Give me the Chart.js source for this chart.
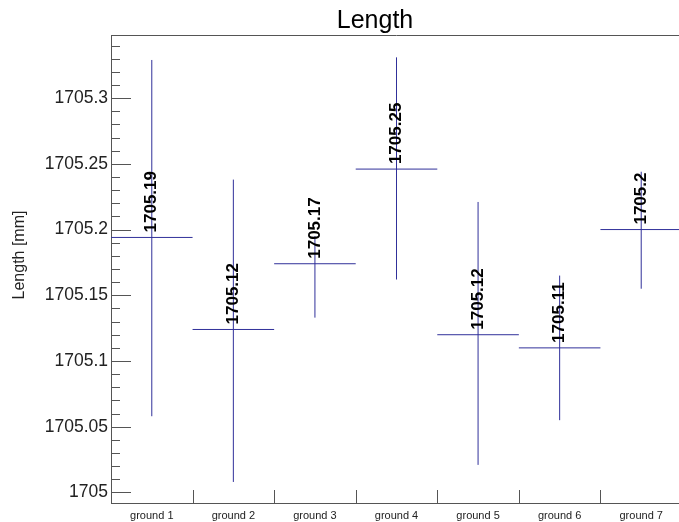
<!DOCTYPE html>
<html>
<head>
<meta charset="utf-8">
<script src="https://cdn.jsdelivr.net/npm/chart.js@4/dist/chart.umd.min.js"></script>
<style>
  html, body { margin: 0; padding: 0; background: #fff; overflow: hidden; }
  #wrap { width: 679px; height: 522px; overflow: hidden; }
</style>
</head>
<body>
<div id="wrap">
  <canvas id="length-chart" width="682" height="522"></canvas>
</div>
<script>
// values
const grounds = ["ground 1", "ground 2", "ground 3", "ground 4", "ground 5", "ground 6", "ground 7"];
const means = [1705.194, 1705.124, 1705.174, 1705.246, 1705.120, 1705.110, 1705.200];
const lows = [1705.058, 1705.008, 1705.133, 1705.162, 1705.021, 1705.055, 1705.155];
const highs = [1705.329, 1705.238, 1705.195, 1705.331, 1705.221, 1705.165, 1705.244];
const valueLabels = means.map((m) => String(parseFloat(m.toFixed(2))));

const lineColor = "#30309a";
const axisColor = "#555555";
const fontName = "'Liberation Sans', Arial, sans-serif";

// horizontal mean line over the whole category, vertical min-max line in the middle
const meanPoints = means.flatMap((m, i) => [
  { x: i - 0.5, y: m },
  { x: i + 0.5, y: m },
  { x: i + 0.5, y: null },
]);
const rangePoints = lows.flatMap((lo, i) => [
  { x: i, y: lo },
  { x: i, y: highs[i] },
  { x: i, y: null },
]);

// frame, inward ticks, titles and the rotated value labels
const decorPlugin = {
  id: "decor",
  afterDraw(chart) {
    const ctx = chart.ctx;
    const area = chart.chartArea;
    const y = chart.scales.y;
    const x2 = chart.scales.x2;

    ctx.save();
    ctx.strokeStyle = axisColor;
    ctx.lineWidth = 1;

    // top border
    ctx.beginPath();
    ctx.moveTo(area.left, area.top + 0.5);
    ctx.lineTo(area.right, area.top + 0.5);
    ctx.stroke();

    // y ticks pointing into the plot
    y.ticks.forEach((t) => {
      const py = Math.round(y.getPixelForValue(t.value)) + 0.5;
      const major = Math.round(t.value * 100) % 5 === 0;
      ctx.beginPath();
      ctx.moveTo(area.left, py);
      ctx.lineTo(area.left + (major ? 20 : 9), py);
      ctx.stroke();
    });

    // category boundary ticks
    for (let i = 0; i < grounds.length - 1; i++) {
      const px = Math.round(x2.getPixelForValue(i + 0.5)) + 0.5;
      ctx.beginPath();
      ctx.moveTo(px, area.bottom);
      ctx.lineTo(px, area.bottom - 13);
      ctx.stroke();
    }

    // title
    ctx.fillStyle = "#000";
    ctx.font = "25px " + fontName;
    ctx.textAlign = "center";
    ctx.textBaseline = "alphabetic";
    ctx.fillText("Length", 375, 28);

    // y axis title
    ctx.save();
    ctx.translate(20, 255);
    ctx.rotate(-Math.PI / 2);
    ctx.font = "16px " + fontName;
    ctx.fillStyle = "#222";
    ctx.textBaseline = "middle";
    ctx.fillText("Length [mm]", 0, 0);
    ctx.restore();

    // value labels above each mean line
    ctx.font = "bold 17px " + fontName;
    ctx.fillStyle = "#000";
    ctx.textAlign = "left";
    ctx.textBaseline = "middle";
    means.forEach((m, i) => {
      ctx.save();
      ctx.translate(x2.getPixelForValue(i), y.getPixelForValue(m) - 5);
      ctx.rotate(-Math.PI / 2);
      ctx.fillText(valueLabels[i], 0, 0);
      ctx.restore();
    });

    ctx.restore();
  },
};

const ctx = document.getElementById("length-chart").getContext("2d");

new Chart(ctx, {
  type: "line",
  data: {
    labels: grounds,
    datasets: [
      {
        label: "mean",
        data: meanPoints,
        xAxisID: "x2",
        borderColor: lineColor,
        borderWidth: 1,
        pointRadius: 0,
        spanGaps: false,
      },
      {
        label: "range",
        data: rangePoints,
        xAxisID: "x2",
        borderColor: lineColor,
        borderWidth: 1,
        pointRadius: 0,
        spanGaps: false,
      },
    ],
  },
  options: {
    responsive: false,
    animation: false,
    devicePixelRatio: 1,
    layout: { padding: { top: 35, left: 0, right: 0, bottom: 0 } },
    plugins: {
      legend: { display: false },
      tooltip: { enabled: false },
      title: { display: false },
    },
    scales: {
      x: {
        type: "category",
        offset: true,
        grid: { display: false, drawTicks: false },
        border: { display: true, color: axisColor, width: 1 },
        ticks: {
          color: "#222",
          font: { family: fontName, size: 11 },
          padding: 6,
          maxRotation: 0,
          autoSkip: false,
        },
        afterFit(scale) {
          scale.height = 19;
        },
      },
      x2: {
        type: "linear",
        display: false,
        min: -0.5,
        max: grounds.length - 0.5,
      },
      y: {
        type: "linear",
        min: 1704.992,
        max: 1705.348,
        grid: { display: false, drawTicks: false },
        border: { display: true, color: axisColor, width: 1 },
        ticks: {
          stepSize: 0.01,
          includeBounds: false,
          autoSkip: false,
          padding: 3,
          color: "#222",
          font: { family: fontName, size: 17.5 },
          callback: (v) =>
            Math.round(v * 100) % 5 === 0 ? String(parseFloat(v.toFixed(2))) : "",
        },
        afterFit(scale) {
          scale.width = 111;
        },
      },
    },
  },
  plugins: [decorPlugin],
});
</script>
</body>
</html>
